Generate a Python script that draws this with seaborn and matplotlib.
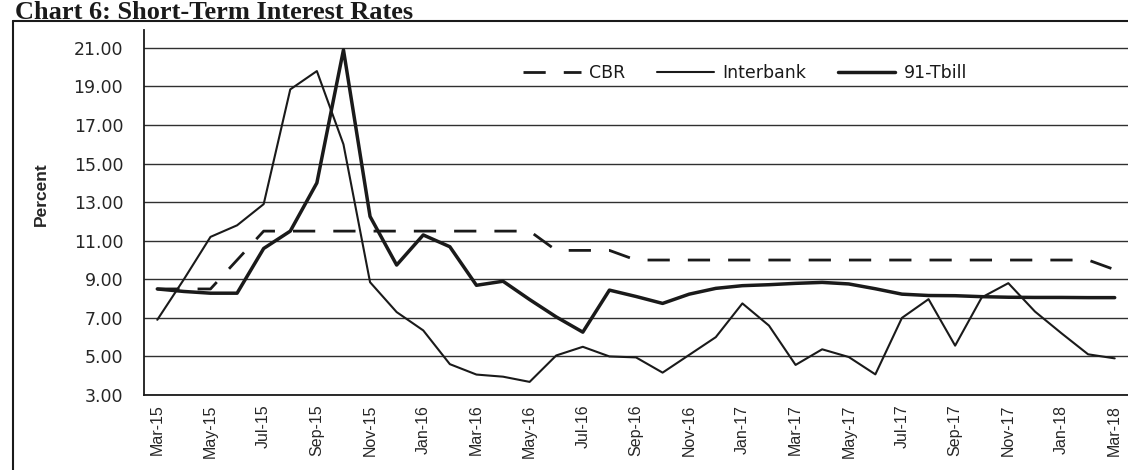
import matplotlib
matplotlib.use("Agg")
import matplotlib.pyplot as plt
import numpy as np
import pandas as pd
import seaborn as sns
from matplotlib.lines import Line2D

# Monthly data, Mar-15 .. Mar-18
months = pd.date_range("2015-03-01", periods=37, freq="MS").strftime("%b-%y").tolist()

cbr = [8.5, 8.5, 8.5, 10.0, 11.5, 11.5, 11.5, 11.5, 11.5, 11.5,
       11.5, 11.5, 11.5, 11.5, 11.5, 10.5, 10.5, 10.5, 10.0, 10.0,
       10.0, 10.0, 10.0, 10.0, 10.0, 10.0, 10.0, 10.0, 10.0, 10.0,
       10.0, 10.0, 10.0, 10.0, 10.0, 10.0, 9.5]

interbank = [6.9, 9.0, 11.2, 11.8, 12.9, 18.85, 19.8, 16.0, 8.85, 7.3,
             6.35, 4.6, 4.06, 3.95, 3.68, 5.05, 5.5, 5.0, 4.95, 4.16,
             5.08, 6.0, 7.75, 6.6, 4.56, 5.37, 4.97, 4.07, 7.0, 7.97,
             5.56, 8.06, 8.8, 7.33, 6.2, 5.11, 4.9]

tbill = [8.5, 8.37, 8.28, 8.28, 10.6, 11.5, 14.0, 20.9, 12.26, 9.74,
         11.3, 10.69, 8.69, 8.9, 7.95, 7.05, 6.26, 8.44, 8.11, 7.75,
         8.23, 8.53, 8.67, 8.72, 8.79, 8.84, 8.76, 8.51, 8.23, 8.16,
         8.15, 8.1, 8.07, 8.06, 8.06, 8.05, 8.05]

yticks = np.arange(3, 22, 2)

sns.set_style("white")
ink = "#1a1a1a"

fig = plt.figure(figsize=(11.28, 4.70), dpi=100)
ax = fig.add_axes([144 / 1128, 1 - 395 / 470, 984 / 1128, 365 / 470])

x = np.arange(len(months))
sns.lineplot(x=x, y=cbr, ax=ax, color=ink, lw=2.0,
             linestyle=(0, (8, 6.5)), label="CBR")
sns.lineplot(x=x, y=interbank, ax=ax, color=ink, lw=1.5, label="Interbank")
sns.lineplot(x=x, y=tbill, ax=ax, color=ink, lw=2.5, label="91-Tbill")

ax.set_xlim(-0.49, 36.37)
ax.set_ylim(3, 21.93)

# horizontal grid
ax.set_yticks(yticks)
ax.set_yticklabels([f"{v:.2f}" for v in yticks], fontsize=12.5, family="DejaVu Sans")
ax.yaxis.grid(True, color="#303030", lw=1.0)
ax.tick_params(axis="y", direction="inout", length=10, width=1, color=ink, pad=10)

# category boundary ticks, labels on every second month
ax.set_xticks(np.arange(-0.5, 37, 1.0))
ax.set_xticklabels([])
ax.tick_params(axis="x", which="major", direction="out", length=5, width=1, color=ink)
ax.set_xticks(x[::2], minor=True)
ax.set_xticklabels(months[::2], minor=True, rotation=90, fontsize=11.5,
                   family="Liberation Sans")
ax.tick_params(axis="x", which="minor", length=0, pad=7)

for s in ["top", "right"]:
    ax.spines[s].set_visible(False)
for s in ["left", "bottom"]:
    ax.spines[s].set_color(ink)
    ax.spines[s].set_linewidth(1.3)

ax.set_ylabel("Percent", fontsize=12.5, family="Liberation Sans", weight="bold")
ax.yaxis.set_label_coords((49 - 144) / 984, (395 - 194) / 365)

leg = ax.legend(loc="center", bbox_to_anchor=(0.611, 0.883), ncol=3, frameon=False,
                handlelength=3.3, handletextpad=0.5, columnspacing=1.8,
                prop={"family": "DejaVu Sans", "size": 12.5})
for t in leg.get_texts():
    t.set_color(ink)

# title sits just on the frame line
fig.text(15 / 1128, 1 - 19 / 470, "Chart 6: Short-Term Interest Rates",
         family="Liberation Serif", weight="bold", fontsize=19,
         va="baseline", ha="left", color=ink)

# outer frame of the scanned chart
fx, fy = 12.7 / 1128, 1 - 21 / 470
fig.add_artist(Line2D([fx, fx], [fy, -0.05], transform=fig.transFigure, color=ink, lw=1.5))
fig.add_artist(Line2D([fx, 1.05], [fy, fy], transform=fig.transFigure, color=ink, lw=1.5))

fig.savefig("out.png", dpi=100)
